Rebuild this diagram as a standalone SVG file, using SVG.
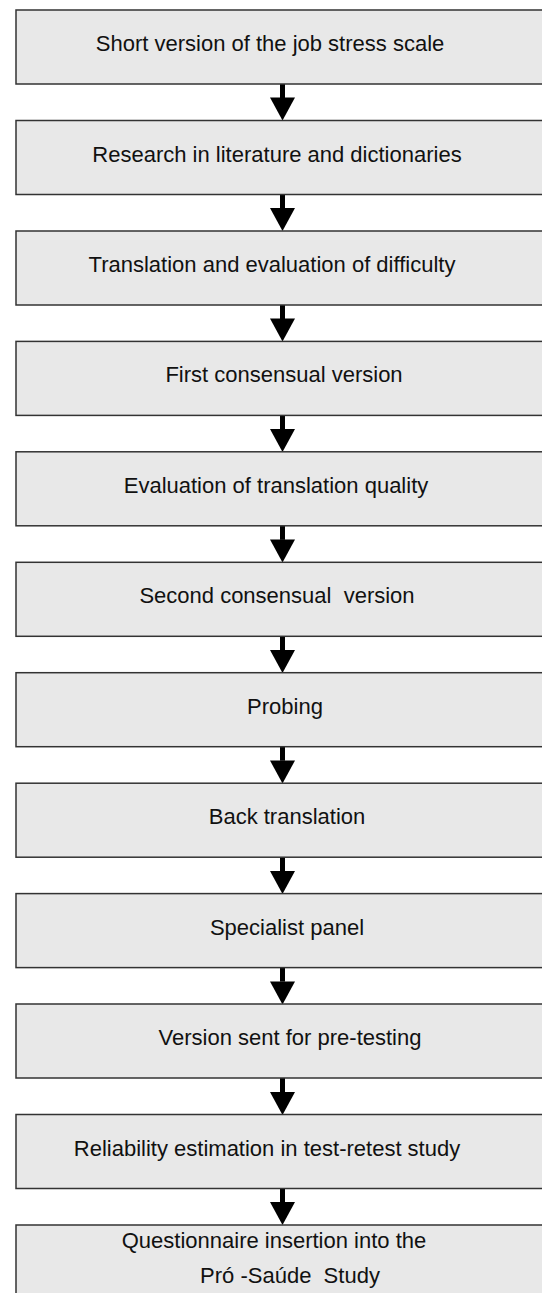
<svg xmlns="http://www.w3.org/2000/svg" width="542" height="1293" viewBox="0 0 542 1293">
<defs>
<style>
.box{fill:#e8e8e8;stroke:#333;stroke-width:1.5}
.t{font-family:"Liberation Sans",Arial,sans-serif;font-size:22px;fill:#111;text-anchor:middle}
.shaft{fill:#000}
.head{fill:#000}
</style>
</defs>
<rect width="542" height="1293" fill="#fff"/>
<g id="connectors">
<rect class="shaft" x="280" y="84" width="5" height="14"/><polygon class="head" points="270,97.5 295,97.5 282.5,120.5"/>
<rect class="shaft" x="280" y="194.5" width="5" height="14"/><polygon class="head" points="270,208 295,208 282.5,231"/>
<rect class="shaft" x="280" y="305" width="5" height="14"/><polygon class="head" points="270,318.5 295,318.5 282.5,341.5"/>
<rect class="shaft" x="280" y="415.4" width="5" height="14"/><polygon class="head" points="270,429 295,429 282.5,452"/>
<rect class="shaft" x="280" y="525.8" width="5" height="14"/><polygon class="head" points="270,539.5 295,539.5 282.5,562.5"/>
<rect class="shaft" x="280" y="636.3" width="5" height="14"/><polygon class="head" points="270,650 295,650 282.5,673"/>
<rect class="shaft" x="280" y="746.7" width="5" height="14"/><polygon class="head" points="270,760.5 295,760.5 282.5,783.5"/>
<rect class="shaft" x="280" y="857.2" width="5" height="14"/><polygon class="head" points="270,871 295,871 282.5,894"/>
<rect class="shaft" x="280" y="967.6" width="5" height="14"/><polygon class="head" points="270,981.5 295,981.5 282.5,1004.5"/>
<rect class="shaft" x="280" y="1078" width="5" height="14"/><polygon class="head" points="270,1092 295,1092 282.5,1115"/>
<rect class="shaft" x="280" y="1188.5" width="5" height="14"/><polygon class="head" points="270,1202 295,1202 282.5,1225"/>
</g>
<g id="n1"><rect class="box" x="16" y="10" width="532" height="74"/><text class="t" x="270" y="51">Short version of the job stress scale</text></g>
<g id="n2"><rect class="box" x="16" y="120.5" width="532" height="74"/><text class="t" x="277" y="161.5">Research in literature and dictionaries</text></g>
<g id="n3"><rect class="box" x="16" y="231" width="532" height="74"/><text class="t" x="272" y="272">Translation and evaluation of difficulty</text></g>
<g id="n4"><rect class="box" x="16" y="341.4" width="532" height="74"/><text class="t" x="284" y="382.4">First consensual version</text></g>
<g id="n5"><rect class="box" x="16" y="451.8" width="532" height="74"/><text class="t" x="276" y="492.8">Evaluation of translation quality</text></g>
<g id="n6"><rect class="box" x="16" y="562.3" width="532" height="74"/><text class="t" x="277" y="603.3" xml:space="preserve">Second consensual  version</text></g>
<g id="n7"><rect class="box" x="16" y="672.7" width="532" height="74"/><text class="t" x="285" y="713.7">Probing</text></g>
<g id="n8"><rect class="box" x="16" y="783.2" width="532" height="74"/><text class="t" x="287" y="824.2">Back translation</text></g>
<g id="n9"><rect class="box" x="16" y="893.6" width="532" height="74"/><text class="t" x="287" y="934.6">Specialist panel</text></g>
<g id="n10"><rect class="box" x="16" y="1004" width="532" height="74"/><text class="t" x="290" y="1045">Version sent for pre-testing</text></g>
<g id="n11"><rect class="box" x="16" y="1114.5" width="532" height="74"/><text class="t" x="267" y="1155.5">Reliability estimation in test-retest study</text></g>
<g id="n12"><rect class="box" x="16" y="1225" width="532" height="80"/><text class="t" x="274" y="1248">Questionnaire insertion into the</text><text class="t" x="290" y="1283" xml:space="preserve">Pró -Saúde  Study</text></g>
</svg>
